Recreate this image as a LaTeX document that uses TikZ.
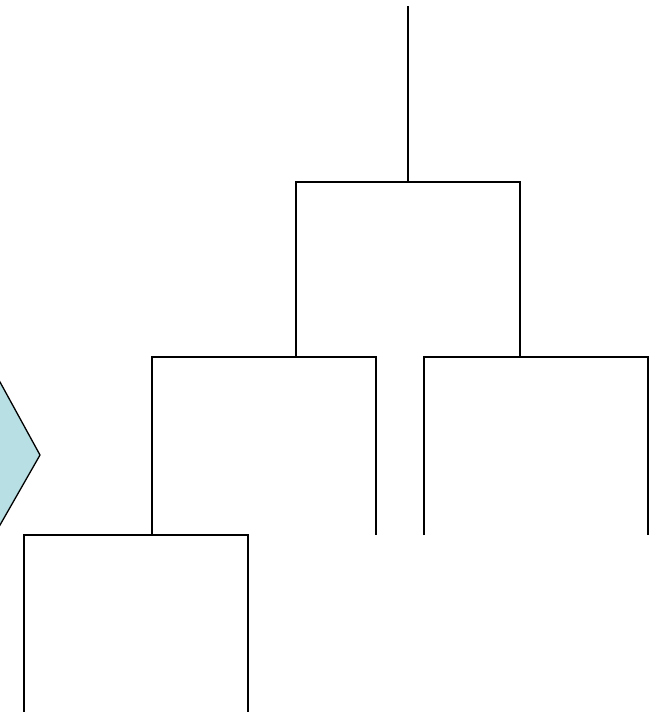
\documentclass[tikz,border=0pt]{standalone}
\begin{document}
\begin{tikzpicture}[x=1pt,y=-1pt,
  branch/.style={draw=black,line width=1.5pt},
  arrowshape/.style={fill={rgb,255:red,184;green,224;blue,228},draw=black,line width=1.3pt,line join=miter}]
\useasboundingbox (0,0) rectangle (651,712);
\clip (0,0) rectangle (651,712);
% light blue pointer at left edge
\draw[arrowshape] (-40,345.5) -- (-20,345.5) -- (40,455) -- (-20,560) -- (-40,560) -- cycle;
% named points
\coordinate (top) at (408,6);
\coordinate (n1) at (408,182);
\coordinate (n1l) at (296,182);
\coordinate (n1r) at (520,182);
\coordinate (n2) at (296,357);
\coordinate (n2l) at (152,357);
\coordinate (n2r) at (376,357);
\coordinate (n3) at (520,357);
\coordinate (n3l) at (424,357);
\coordinate (n3r) at (648,357);
\coordinate (n2rb) at (376,535);
\coordinate (n3lb) at (424,535);
\coordinate (n3rb) at (648,535);
\coordinate (n4) at (152,535);
\coordinate (n4l) at (24,535);
\coordinate (n4r) at (248,535);
\coordinate (n4lb) at (24,712);
\coordinate (n4rb) at (248,712);
% tree
\draw[branch] (top) -- (n1);
\draw[branch] (n2) -- (n1l) -- (n1r) -- (n3);
\draw[branch] (n4) -- (n2l) -- (n2r) -- (n2rb);
\draw[branch] (n3lb) -- (n3l) -- (n3r) -- (n3rb);
\draw[branch] (n4lb) -- (n4l) -- (n4r) -- (n4rb);
\end{tikzpicture}
\end{document}
